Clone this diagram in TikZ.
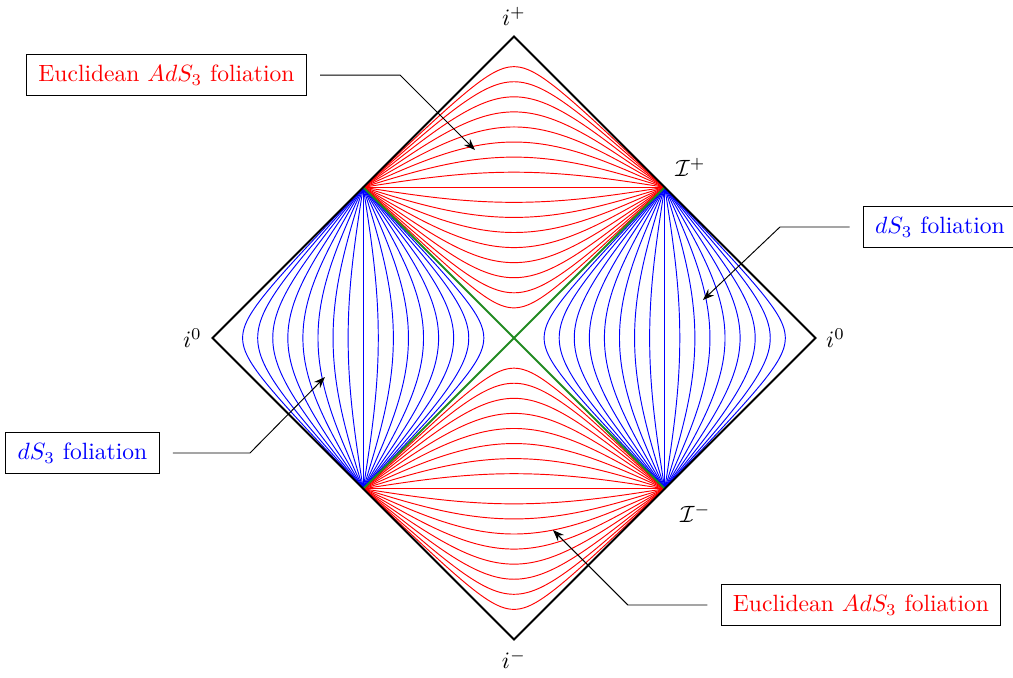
\documentclass[tikz,border=0pt]{standalone}
\usepackage{amsmath, amssymb}
\usepackage{tikz}
\usetikzlibrary{arrows.meta}
\definecolor{conegreen}{RGB}{34,139,34}

\begin{document}
\begin{tikzpicture}[>=Stealth,
    labelbox/.style={draw=black, thin, fill=white, inner xsep=5pt, minimum height=0.6cm},
    pointer/.style={->, thin, shorten <=0.2cm}]
  \useasboundingbox (-7.671,-5.060) rectangle (7.448,5.045);

  % corners of the diagram
  \coordinate (top) at (0,4.5);
  \coordinate (bot) at (0,-4.5);
  \coordinate (lft) at (-4.5,0);
  \coordinate (rgt) at (4.5,0);
  \coordinate (scriTL) at (-2.25,2.25);
  \coordinate (scriTR) at (2.25,2.25);
  \coordinate (scriBL) at (-2.25,-2.25);
  \coordinate (scriBR) at (2.25,-2.25);

  % euclidean AdS3 slices (cos T = cos T0 cos X), top and bottom
  \foreach \k in {2,...,18} {
    \draw[red, domain=-90:90, samples=91]
      plot ({\x/40}, {acos(cos(9*\k)*cos(\x))/40});
    \draw[red, domain=-90:90, samples=91]
      plot ({\x/40}, {-acos(cos(9*\k)*cos(\x))/40});
  }

  % dS3 slices (cos X = cos X0 cos T), left and right
  \foreach \k in {2,...,18} {
    \draw[blue, domain=-90:90, samples=91]
      plot ({-acos(cos(9*\k)*cos(\x))/40}, {\x/40});
    \draw[blue, domain=-90:90, samples=91]
      plot ({acos(cos(9*\k)*cos(\x))/40}, {\x/40});
  }

  % light cone of the origin
  \draw[conegreen, thick] (scriTL) -- (scriBR);
  \draw[conegreen, thick] (scriTR) -- (scriBL);

  % boundary of the diamond
  \draw[thick, line join=miter] (top) -- (rgt) -- (bot) -- (lft) -- cycle;

  % infinities
  \node[above=1pt] (ip) at (top) {$i^{+}$};
  \node[below=1pt] (im) at (bot) {$i^{-}$};
  \node[left=1pt] (i0l) at (lft) {$i^{0}$};
  \node[right=1pt] (i0r) at (rgt) {$i^{0}$};
  \node[above right=1pt] (scrip) at (scriTR) {$\mathcal{I}^{+}$};
  \node[below right=3pt] (scrim) at (scriBR) {$\mathcal{I}^{-}$};

  % labels with pointers
  \node[labelbox, text=red] (euctop) at (-5.186,3.925) {Euclidean $AdS_3$ foliation};
  \coordinate (euctopbend) at (-1.701,3.925);
  \coordinate (euctoptip) at (-0.582,2.806);
  \draw[pointer] (euctop.east) -- (euctopbend) -- (euctoptip);

  \node[labelbox, text=blue] (dsright) at (6.358,1.657) {$dS_3$ foliation};
  \coordinate (dsrightbend) at (3.970,1.657);
  \coordinate (dsrighttip) at (2.821,0.567);
  \draw[pointer] (dsright.west) -- (dsrightbend) -- (dsrighttip);

  \node[labelbox, text=blue] (dsleft) at (-6.440,-1.716) {$dS_3$ foliation};
  \coordinate (dsleftbend) at (-3.940,-1.716);
  \coordinate (dslefttip) at (-2.821,-0.582);
  \draw[pointer] (dsleft.east) -- (dsleftbend) -- (dslefttip);

  \node[labelbox, text=red] (eucbot) at (5.179,-3.985) {Euclidean $AdS_3$ foliation};
  \coordinate (eucbotbend) at (1.701,-3.985);
  \coordinate (eucbottip) at (0.582,-2.866);
  \draw[pointer] (eucbot.west) -- (eucbotbend) -- (eucbottip);
\end{tikzpicture}
\end{document}
